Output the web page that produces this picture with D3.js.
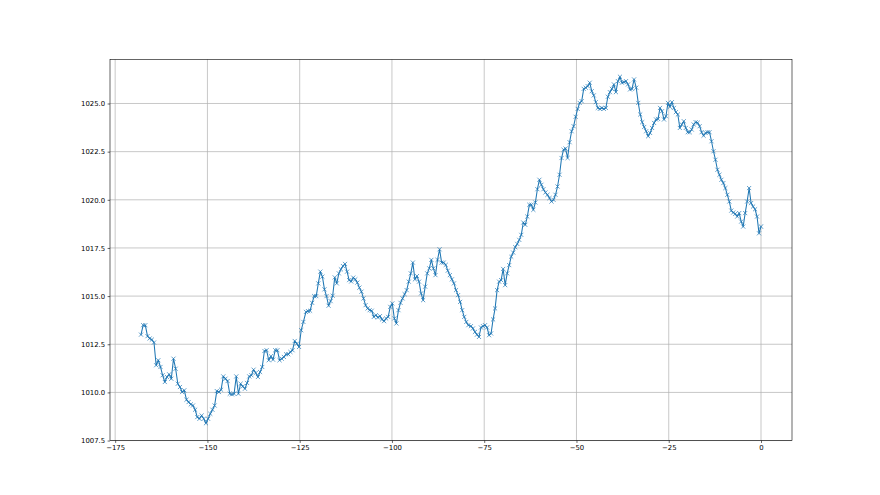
<!DOCTYPE html>
<html>
<head>
<meta charset="utf-8">
<script src="https://cdn.jsdelivr.net/npm/d3@7"></script>
<style>
  html, body { margin: 0; padding: 0; background: #fff; }
  svg { display: block; }
  text { font-family: "DejaVu Sans", sans-serif; }
</style>
</head>
<body>
<svg id="chart" width="880" height="495"></svg>
<script>
// Pressure readings (hPa), in four stretches of time.
const span1 = [-168, -124];
const pressure1 = [
  1013.0, 1013.49, 1013.49, 1012.92, 1012.80, 1012.74, 1012.59, 1011.41, 1011.67, 1011.32,
  1010.89, 1010.54, 1010.80, 1010.94, 1010.71, 1011.75, 1011.23, 1010.45, 1010.28, 1010.02,
  1010.11, 1009.62, 1009.50, 1009.38, 1009.32, 1009.10, 1008.72, 1008.63, 1008.80, 1008.63,
  1008.40, 1008.63, 1008.89, 1009.10, 1009.32, 1010.07, 1010.02, 1010.14, 1010.83, 1010.71,
  1010.59, 1009.93, 1009.90, 1009.93, 1010.83, 1009.93, 1010.45, 1010.31, 1010.19, 1010.49,
  1010.83, 1010.89, 1011.18, 1011.01, 1010.80, 1011.06, 1011.32, 1012.15, 1012.19, 1011.67,
  1011.88, 1011.70, 1012.19, 1012.19, 1011.67, 1011.75, 1011.84, 1011.98, 1011.98, 1012.10,
  1012.19, 1012.67, 1012.53, 1012.36, 1013.23, 1013.66
];
const span2 = [-123.3, -79.3];
const pressure2 = [
  1014.18, 1014.22, 1014.24, 1014.65, 1015.0, 1015.0, 1015.66, 1016.27, 1016.01, 1015.35,
  1015.0, 1014.5, 1014.74, 1015.02, 1015.97, 1015.66, 1016.18, 1016.39, 1016.56, 1016.67,
  1016.27, 1015.83, 1015.76, 1015.96, 1015.87, 1015.70, 1015.44, 1015.23, 1014.88, 1014.53,
  1014.36, 1014.27, 1014.24, 1013.92, 1014.01, 1013.89, 1013.96, 1013.79, 1013.70, 1013.84,
  1013.92, 1014.44, 1014.62, 1013.84, 1013.58, 1014.27, 1014.65, 1014.88, 1015.10, 1015.31,
  1015.75, 1016.18, 1016.74, 1015.87, 1016.04, 1015.75, 1015.14, 1014.79, 1015.49, 1016.18,
  1016.44, 1016.88, 1016.44, 1016.09, 1016.88, 1017.43, 1016.74, 1016.74, 1016.62, 1016.32,
  1016.09, 1015.87, 1015.66, 1015.31, 1015.05, 1014.70, 1014.27, 1013.92, 1013.66, 1013.49
];
const span3 = [-78.6, -34.4];
const pressure3 = [
  1013.44, 1013.32, 1013.14,
  1013.0, 1012.88, 1013.37, 1013.44, 1013.49, 1013.37, 1012.97, 1013.06, 1013.79, 1014.36,
  1015.31, 1015.75, 1015.83, 1016.41, 1015.57, 1016.18, 1016.61, 1017.05, 1017.26, 1017.54,
  1017.71, 1017.92, 1018.18, 1018.82, 1018.70, 1019.13, 1019.74, 1019.74, 1019.48, 1019.86,
  1020.55, 1021.04, 1020.78, 1020.55, 1020.38, 1020.26, 1020.09, 1019.91, 1020.0, 1020.26,
  1020.69, 1021.30, 1022.17, 1022.60, 1022.66, 1022.17, 1022.99, 1023.56, 1023.82, 1024.31,
  1024.72, 1025.03, 1025.12, 1025.76, 1025.82, 1025.90, 1026.08, 1025.64, 1025.42, 1025.07,
  1024.77, 1024.72, 1024.77, 1024.72, 1024.77, 1025.35, 1025.59, 1025.76, 1025.99, 1025.59,
  1026.16, 1026.39, 1026.08, 1026.11, 1026.16, 1025.99, 1025.73, 1025.76, 1026.25
];
const span4 = [-33.8, 0];
const pressure4 = [
  1025.82, 1025.03, 1024.43, 1024.03, 1023.78, 1023.56, 1023.30, 1023.47, 1023.73, 1023.99,
  1024.17, 1024.20, 1024.77, 1024.60, 1024.17, 1024.34, 1025.03, 1024.83, 1025.07, 1024.77,
  1024.55, 1024.43, 1023.73, 1023.91, 1024.08, 1023.73, 1023.51, 1023.51, 1023.65, 1023.91,
  1024.03, 1024.0, 1023.82, 1023.51, 1023.33, 1023.47, 1023.51, 1023.51, 1023.04, 1022.52,
  1022.08, 1021.56, 1021.30, 1021.04, 1020.87, 1020.61, 1020.26, 1019.91, 1019.44, 1019.34,
  1019.27, 1019.13, 1019.31, 1018.87, 1018.61, 1019.31, 1019.91, 1020.61, 1019.83, 1019.65,
  1019.51, 1019.13, 1018.26, 1018.61
];
const xTicks = [-175, -150, -125, -100, -75, -50, -25, 0];
const yTicks = [1007.5, 1010.0, 1012.5, 1015.0, 1017.5, 1020.0, 1022.5, 1025.0];

const stretches = [[span1, pressure1], [span2, pressure2], [span3, pressure3], [span4, pressure4]];
const data = [];
stretches.forEach(([sp, vals]) => {
  const st = (sp[1] - sp[0]) / (vals.length - 1);
  vals.forEach((v, i) => data.push({ x: sp[0] + i * st, y: v }));
});

const W = 880, H = 495;
const m = { left: 110, right: 88, top: 59.4, bottom: 54.45 };
const iw = W - m.left - m.right, ih = H - m.top - m.bottom;

// matplotlib-style 5% margins
const xmin = d3.min(data, d => d.x), xmax = d3.max(data, d => d.x);
const xPad = (xmax - xmin) * 0.05;
const ymin = d3.min(data, d => d.y), ymax = d3.max(data, d => d.y);
const yPad = (ymax - ymin) * 0.05;
const x = d3.scaleLinear().domain([xmin - xPad, xmax + xPad]).range([0, iw]);
const y = d3.scaleLinear().domain([ymin - yPad, ymax + yPad]).range([ih, 0]);

const svg = d3.select("#chart");
const g = svg.append("g").attr("transform", `translate(${m.left},${m.top})`);

// grid
g.append("g").selectAll("line").data(xTicks).join("line")
  .attr("x1", d => x(d)).attr("x2", d => x(d)).attr("y1", 0).attr("y2", ih)
  .attr("stroke", "#b0b0b0").attr("stroke-width", 0.7);
g.append("g").selectAll("line").data(yTicks).join("line")
  .attr("y1", d => y(d)).attr("y2", d => y(d)).attr("x1", 0).attr("x2", iw)
  .attr("stroke", "#b0b0b0").attr("stroke-width", 0.7);

// line
const line = d3.line().x(d => x(d.x)).y(d => y(d.y));
g.append("path").datum(data).attr("d", line)
  .attr("fill", "none").attr("stroke", "#1f77b4").attr("stroke-width", 1.05)
  .attr("stroke-linejoin", "round").attr("stroke-linecap", "square");

// x markers
const ms = 2.05;
g.append("g").selectAll("path").data(data).join("path")
  .attr("transform", d => `translate(${x(d.x)},${y(d.y)})`)
  .attr("d", `M${-ms},${-ms}L${ms},${ms}M${-ms},${ms}L${ms},${-ms}`)
  .attr("stroke", "#1f77b4").attr("stroke-width", 0.7).attr("fill", "none");

// axes
const fmtX = d => (d < 0 ? "\u2212" + Math.abs(d) : String(d));
const xAxis = d3.axisBottom(x).tickValues(xTicks).tickFormat(fmtX).tickSize(2.4).tickPadding(2.4);
const yAxis = d3.axisLeft(y).tickValues(yTicks).tickFormat(d3.format(".1f")).tickSize(2.4).tickPadding(2.4);
const gx = g.append("g").attr("transform", `translate(0,${ih})`).call(xAxis);
const gy = g.append("g").call(yAxis);
[gx, gy].forEach(a => {
  a.select(".domain").remove();
  a.selectAll(".tick line").attr("stroke", "#000").attr("stroke-width", 0.6);
  a.selectAll(".tick text").attr("fill", "#000").style("font-size", "6.9px").style("font-family", "'DejaVu Sans', sans-serif");
});

// frame
g.append("rect").attr("x", 0).attr("y", 0).attr("width", iw).attr("height", ih)
  .attr("fill", "none").attr("stroke", "#000").attr("stroke-width", 0.6);
</script>
</body>
</html>
